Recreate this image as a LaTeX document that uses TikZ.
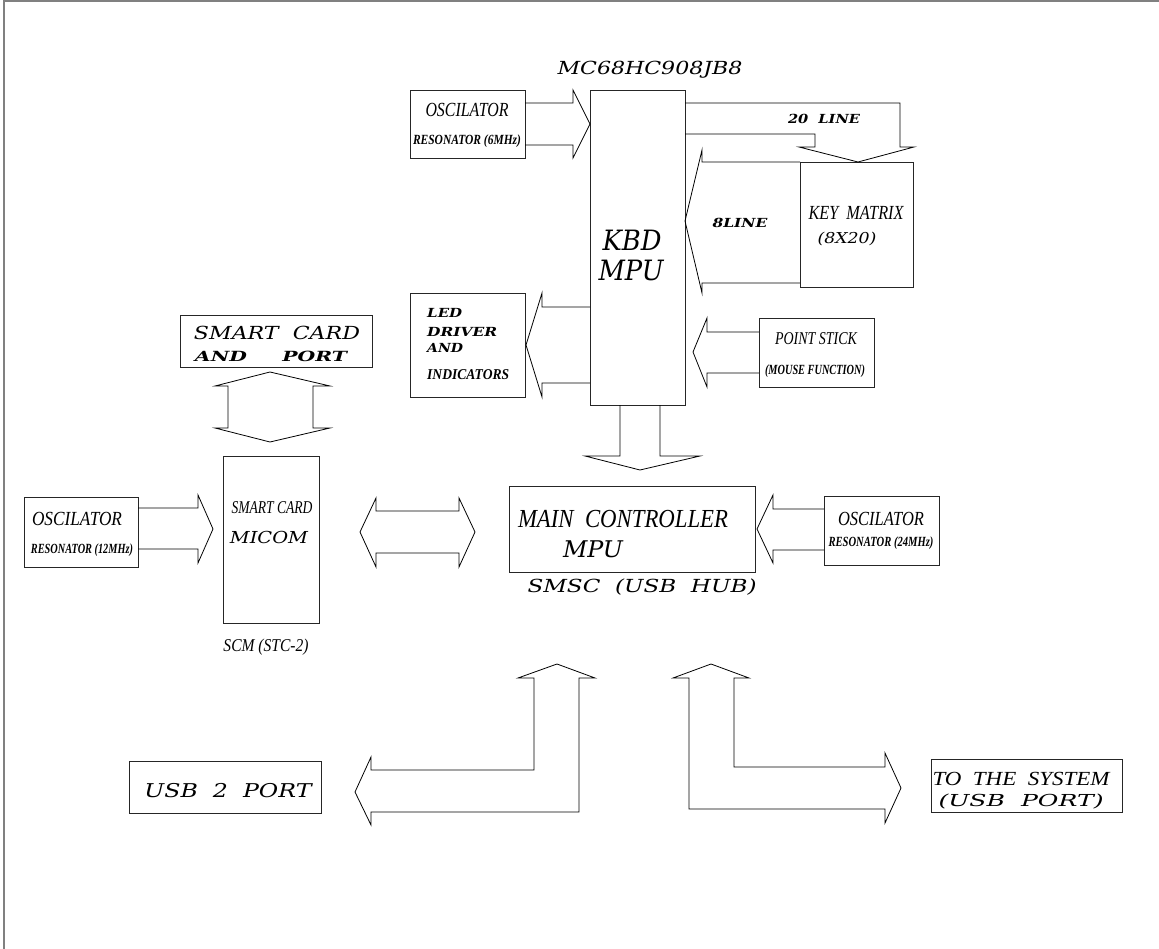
\documentclass[tikz,border=0pt]{standalone}
\usepackage{fontspec}
\usepackage{graphicx}
\newfontfamily\widefam{DejaVu Serif}
\newfontfamily\condfam{Liberation Serif}
\newcommand\W[1]{\widefam\itshape\fontsize{#1}{#1}\selectfont}
\newcommand\WB[1]{\widefam\bfseries\itshape\fontsize{#1}{#1}\selectfont}
\newcommand\Cd[1]{\condfam\itshape\fontsize{#1}{#1}\selectfont}
\newcommand\CB[1]{\condfam\bfseries\itshape\fontsize{#1}{#1}\selectfont}
\newcommand\fw[2]{\resizebox{#1pt}{\height}{#2}}
\tikzset{
  box/.style={draw=black!85, line width=1pt, inner sep=0pt, anchor=north west},
  barrow/.style={draw=black, line width=0.8pt, line join=miter},
  btxt/.style={inner sep=0pt, anchor=base},
  ltxt/.style={inner sep=0pt, anchor=base west},
}
\begin{document}
\begin{tikzpicture}[x=1pt,y=-1pt]
\useasboundingbox (0,0) rectangle (1159,949);
\draw[gray, line width=2pt] (4,949) -- (4,1) -- (1159,1);

% boxes
\node[box, minimum width=95, minimum height=315] (kbd) at (590,90) {};
\node[box, minimum width=115, minimum height=68] (osca) at (410,90) {};
\node[box, minimum width=113, minimum height=125] (keym) at (800,162) {};
\node[box, minimum width=115, minimum height=104] (led) at (410,293) {};
\node[box, minimum width=115, minimum height=69] (pstick) at (759,318) {};
\node[box, minimum width=246, minimum height=86] (mainc) at (509,486) {};
\node[box, minimum width=115, minimum height=69] (oscc) at (824,496) {};
\node[box, minimum width=96, minimum height=167] (micom) at (223,456) {};
\node[box, minimum width=192, minimum height=52] (scport) at (180,315) {};
\node[box, minimum width=114, minimum height=70] (oscb) at (24,497) {};
\node[box, minimum width=192, minimum height=52] (usb2) at (129,761) {};
\node[box, minimum width=191, minimum height=53] (tosys) at (931,759) {};

% block arrows
\draw[barrow] (525,103) -- (573,103) -- (573,90) -- (590,124) -- (573,158) -- (573,145) -- (525,145);
\draw[barrow] (685,103) -- (900,103) -- (900,147) -- (914,147) -- (858,162) -- (799,147) -- (815,147) -- (815,134) -- (685,134);
\draw[barrow] (800,162) -- (702,162) -- (702,150) -- (685,221) -- (702,293) -- (702,283) -- (800,283);
\draw[barrow] (590,307) -- (542,307) -- (542,293) -- (526,345) -- (542,397) -- (542,383) -- (590,383);
\draw[barrow] (759,332) -- (707,332) -- (707,318) -- (693,352) -- (707,387) -- (707,373) -- (759,373);
\draw[barrow] (620,405) -- (620,456) -- (585,456) -- (640,470) -- (700,456) -- (660,456) -- (660,405);
\draw[barrow] (824,509) -- (773,509) -- (773,495) -- (757,529) -- (773,563) -- (773,550) -- (824,550);
\draw[barrow] (138,508) -- (198,508) -- (198,495) -- (213,529) -- (198,563) -- (198,549) -- (138,549);
\draw[barrow] (376,511) -- (459,511) -- (459,498) -- (475,532) -- (459,567) -- (459,553) -- (376,553) -- (376,567) -- (360,532) -- (376,498) -- cycle;
\draw[barrow] (228,386) -- (215,386) -- (270,372) -- (330,386) -- (313,386) -- (313,428) -- (330,428) -- (270,442) -- (215,428) -- (228,428) -- cycle;
\draw[barrow] (534,678) -- (518,678) -- (557,664) -- (595,678) -- (579,678) -- (579,812) -- (371,812) -- (371,825) -- (355,792) -- (371,757) -- (371,770) -- (534,770) -- cycle;
\draw[barrow] (689,678) -- (673,678) -- (711,664) -- (749,678) -- (734,678) -- (734,767) -- (885,767) -- (885,753) -- (901,788) -- (885,823) -- (885,809) -- (689,809) -- cycle;

% texts
\node[btxt] (tchip) at (650,75) {\W{18}\fw{185}{MC68HC908JB8}};
\node[btxt] (tkbd) at (632,251) {\W{28}\fw{59}{KBD}};
\node[btxt] (tmpu) at (631,281) {\W{28}\fw{65}{MPU}};
\node[btxt] (tosca1) at (467,117) {\Cd{20}\fw{83}{OSCILATOR}};
\node[btxt] (tosca2) at (467,145) {\CB{14}\fw{108}{RESONATOR (6MHz)}};
\node[btxt] (t20) at (824,124) {\WB{12.5}\fw{72}{20\ \ LINE}};
\node[btxt] (t8) at (740,228) {\WB{12.5}\fw{55}{8LINE}};
\node[btxt] (tkey1) at (856,220) {\Cd{20}\fw{95}{KEY\ \ MATRIX}};
\node[btxt] (tkey2) at (847,244) {\W{15}\fw{59}{(8X20)}};
\node[ltxt] (tled1) at (427,318) {\WB{12.5}\fw{35}{LED}};
\node[ltxt] (tled2) at (427,337) {\WB{12.5}\fw{70}{DRIVER}};
\node[ltxt] (tled3) at (427,353) {\WB{12.5}\fw{36}{AND}};
\node[ltxt] (tled4) at (427,380) {\CB{15}\fw{82}{INDICATORS}};
\node[btxt] (tps1) at (816,345) {\Cd{18}\fw{82}{POINT STICK}};
\node[btxt] (tps2) at (815,375) {\CB{14}\fw{100}{(MOUSE FUNCTION)}};
\node[btxt] (tscp1) at (277,340) {\W{18}\fw{166}{SMART\ \ CARD}};
\node[btxt] (tscp2) at (271,362) {\WB{14}\fw{152}{AND\ \ \ \ \ PORT}};
\node[btxt] (tmic1) at (272,513) {\Cd{18}\fw{81}{SMART CARD}};
\node[btxt] (tmic2) at (269,543) {\W{16.5}\fw{78}{MICOM}};
\node[btxt] (tscm) at (266,651) {\Cd{18}\fw{85}{SCM (STC-2)}};
\node[btxt] (toscb1) at (77,525) {\Cd{20}\fw{90}{OSCILATOR}};
\node[btxt] (toscb2) at (82,553) {\CB{14}\fw{102}{RESONATOR (12MHz)}};
\node[btxt] (tmain1) at (623,527) {\Cd{26}\fw{210}{MAIN\ \ CONTROLLER}};
\node[btxt] (tmain2) at (593,557) {\W{23}\fw{60}{MPU}};
\node[btxt] (tsmsc) at (642,592) {\W{18}\fw{229}{SMSC\ \ (USB\ \ HUB)}};
\node[btxt] (toscc1) at (881,525) {\Cd{20}\fw{86}{OSCILATOR}};
\node[btxt] (toscc2) at (881,546) {\CB{14}\fw{105}{RESONATOR (24MHz)}};
\node[btxt] (tusb2) at (228,797) {\W{19}\fw{167}{USB\ \ 2\ \ PORT}};
\node[btxt] (tsys1) at (1021,785) {\Cd{20}\fw{177}{TO\ \ THE\ \ SYSTEM}};
\node[btxt] (tsys2) at (1021,806) {\W{16.5}\fw{165}{(USB\ \ PORT)}};
\end{tikzpicture}
\end{document}
